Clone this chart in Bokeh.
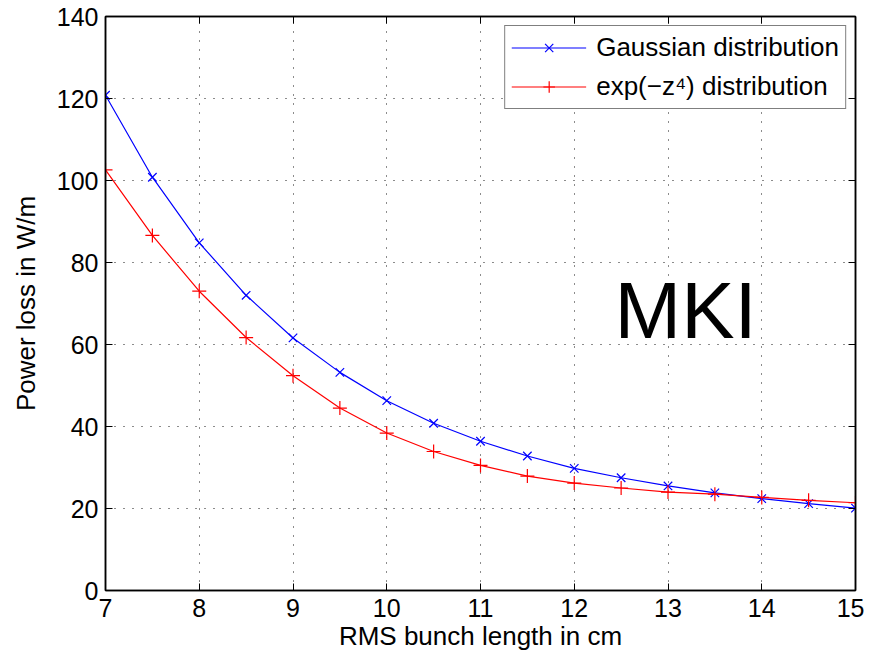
from bokeh.plotting import figure
from bokeh.models import Range1d, FixedTicker, LinearAxis, Legend, LegendItem, Label
from bokeh.embed import file_html
from bokeh.resources import INLINE

# Data
bunch_length = [7.0, 7.5, 8.0, 8.5, 9.0, 9.5, 10.0, 10.5, 11.0, 11.5, 12.0, 12.5, 13.0, 13.5, 14.0, 14.5, 15.0]
gaussian = [120.8, 100.8, 84.8, 72.0, 61.6, 53.2, 46.3, 40.8, 36.4, 32.8, 29.8, 27.5, 25.5, 23.8, 22.4, 21.2, 20.1]
exp_z4 = [102.6, 86.6, 73.0, 61.7, 52.4, 44.5, 38.4, 33.9, 30.5, 27.9, 26.2, 25.0, 24.0, 23.5, 22.7, 22.0, 21.4]
x_ticks = [7, 8, 9, 10, 11, 12, 13, 14, 15]
y_ticks = [0, 20, 40, 60, 80, 100, 120, 140]
series_names = ["Gaussian distribution", "exp(\u2212z\u2074) distribution"]
annotation = "MKI"

FONT = "Liberation Sans"

p = figure(width=864, height=655, output_backend="svg", toolbar_location=None,
           x_range=Range1d(7, 15), y_range=Range1d(0, 140),
           x_axis_label="RMS bunch length in cm", y_axis_label="Power loss in W/m",
           min_border_left=105, min_border_right=9, min_border_top=16, min_border_bottom=65)
p.outline_line_color = "black"
p.outline_line_width = 1.5
p.background_fill_color = "white"
p.border_fill_color = "white"

for ax in (p.xaxis[0], p.yaxis[0]):
    ax.major_tick_in = 7
    ax.major_tick_out = 0
    ax.minor_tick_line_color = None
    ax.axis_line_width = 1.5
    ax.major_tick_line_width = 1
    ax.major_label_text_font = FONT
    ax.major_label_text_font_size = "25px"
    ax.major_label_text_color = "black"
    ax.axis_label_text_font = FONT
    ax.axis_label_text_font_size = "26px"
    ax.axis_label_text_font_style = "normal"
    ax.axis_label_text_color = "black"

p.xaxis[0].ticker = FixedTicker(ticks=x_ticks)
p.yaxis[0].ticker = FixedTicker(ticks=y_ticks)
p.xaxis[0].major_label_standoff = 8
p.xaxis[0].axis_label_standoff = 1
p.yaxis[0].major_label_standoff = 7
p.yaxis[0].axis_label_standoff = 13

# Mirror axes (box with inward ticks, no labels)
top = LinearAxis(ticker=FixedTicker(ticks=x_ticks),
                 major_label_overrides={t: "" for t in x_ticks},
                 major_label_text_font_size="8px",
                 major_tick_in=7, major_tick_out=0, minor_tick_line_color=None,
                 major_label_standoff=0, axis_line_width=1.5)
right = LinearAxis(ticker=FixedTicker(ticks=y_ticks),
                   major_label_overrides={t: "" for t in y_ticks},
                   major_label_text_font_size="8px",
                   major_tick_in=7, major_tick_out=0, minor_tick_line_color=None,
                   major_label_standoff=0, axis_line_width=1.5)
p.add_layout(top, "above")
p.add_layout(right, "right")

p.xgrid.ticker = FixedTicker(ticks=x_ticks)
p.ygrid.ticker = FixedTicker(ticks=y_ticks)
for g in (p.xgrid[0], p.ygrid[0]):
    g.grid_line_color = "black"
    g.grid_line_dash = "1 8"
    g.grid_line_width = 1
    g.grid_line_alpha = 0.9

l1 = p.line(bunch_length, gaussian, line_color="#0000ff", line_width=1.2)
m1 = p.scatter(bunch_length, gaussian, marker="x", size=12, line_color="#0000ff", line_width=1.2)
l2 = p.line(bunch_length, exp_z4, line_color="#ff0000", line_width=1.2)
m2 = p.scatter(bunch_length, exp_z4, marker="cross", size=14, line_color="#ff0000", line_width=1.2)

legend = Legend(items=[LegendItem(label=series_names[0], renderers=[l1, m1]),
                       LegendItem(label=series_names[1], renderers=[l2, m2])],
                location="top_right")
legend.label_text_font = FONT
legend.label_text_font_size = "26px"
legend.label_text_color = "black"
legend.glyph_width = 75
legend.glyph_height = 29
legend.label_height = 29
legend.label_standoff = 10
legend.padding = 6
legend.spacing = 8
legend.margin = 9
legend.border_line_color = "black"
legend.border_line_width = 1.2
legend.background_fill_alpha = 1.0
p.add_layout(legend)

p.add_layout(Label(x=12.43, y=68.3, text=annotation, text_font=FONT, text_font_size="80px",
                   text_color="black", text_baseline="alphabetic", text_align="left"))

open("out.html", "w").write(file_html(p, INLINE))
